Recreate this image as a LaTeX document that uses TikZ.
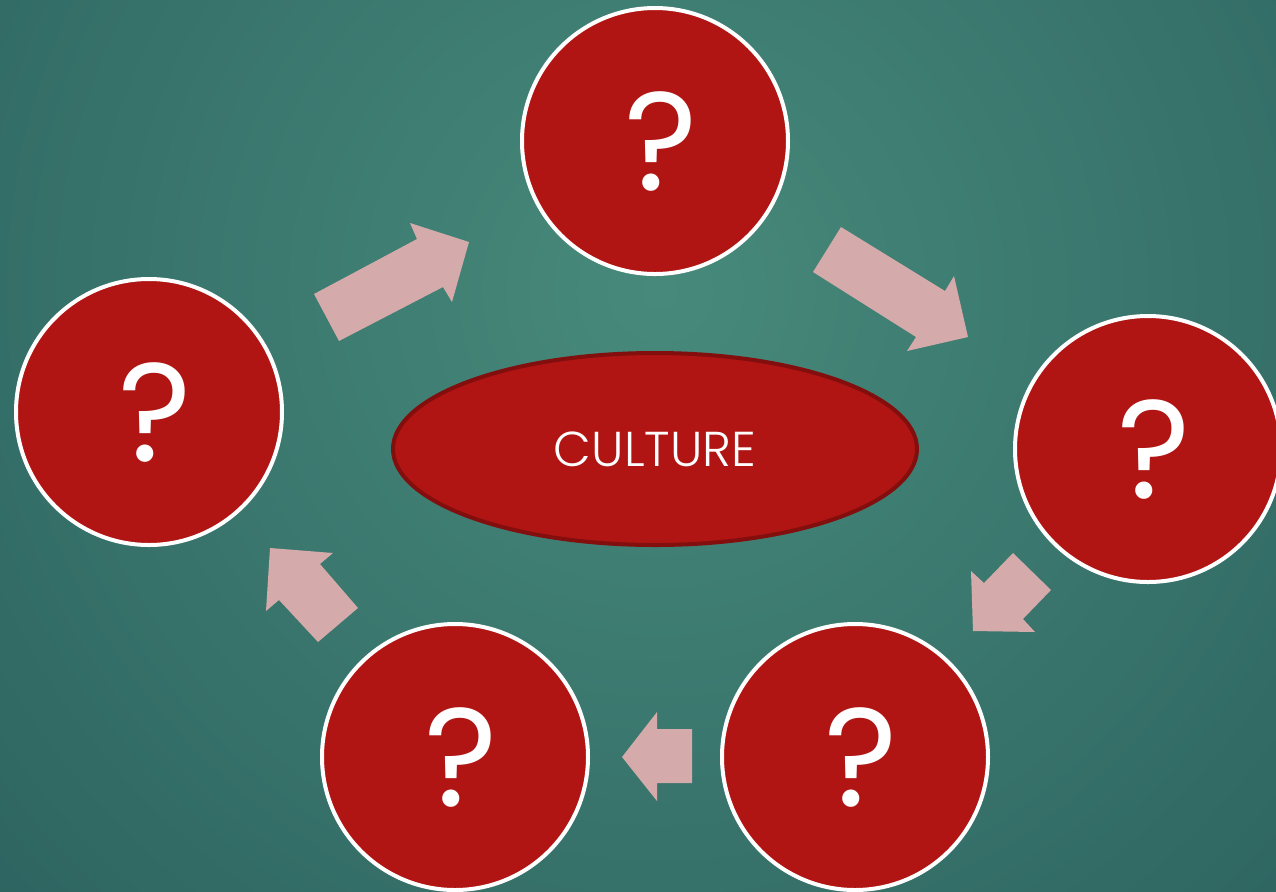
\documentclass[tikz,border=0pt]{standalone}
\usepackage{fontspec}
\setmainfont{Poppins}
\newfontfamily\lightfont{Poppins Light}
\usetikzlibrary{shapes.geometric}
\definecolor{bgin}{HTML}{478A7B}
\definecolor{bgout}{HTML}{1E4D51}
\definecolor{qred}{HTML}{B01513}
\definecolor{edred}{HTML}{820F0D}
\definecolor{arrowpink}{HTML}{D4AAAA}
\tikzset{
  qcircle/.style={circle, fill=qred, draw=white, line width=2pt, minimum size=266*0.5pt, inner sep=0pt, text=white, font=\fontsize{70}{70}\selectfont},
  culture/.style={ellipse, fill=qred, draw=edred, line width=2pt, minimum width=524*0.5pt, minimum height=192*0.5pt, inner sep=0pt, text=white, font=\lightfont\fontsize{24.5}{24.5}\selectfont},
  blockarrow/.style={fill=arrowpink, draw=none}
}
\begin{document}
\begin{tikzpicture}[x=0.5pt,y=-0.5pt]
\useasboundingbox (0,0) rectangle (1276,891);
\begin{scope}
\clip (0,0) rectangle (1276,891);
\shade[inner color=bgin, outer color=bgout] (660,290) circle (1450);
\end{scope}
\node[qcircle] (top) at (655,141) {\hspace*{6pt}?};
\node[qcircle] (left) at (149,412) {\hspace*{6pt}?};
\node[qcircle] (right) at (1148,449) {\hspace*{6pt}?};
\node[qcircle] (bright) at (855,757) {\hspace*{6pt}?};
\node[qcircle] (bleft) at (455,757) {\hspace*{6pt}?};
\node[culture] (cult) at (655,449) {CULTURE};
% block arrows
\fill[blockarrow] (314,294) -- (339,341) -- (443,287) -- (452,302) -- (469,242) -- (410,223) -- (417,239) -- cycle;
\fill[blockarrow] (841,227) -- (813,272) -- (916,337) -- (907,351) -- (968,337) -- (954,276) -- (945,291) -- cycle;
\fill[blockarrow] (1013,553) -- (1051,590) -- (1023,619) -- (1035,632) -- (973,631) -- (971,571) -- (984,583) -- cycle;
\fill[blockarrow] (692,729) -- (692,783) -- (657,783) -- (657,801) -- (622,757) -- (657,712) -- (657,729) -- cycle;
\fill[blockarrow] (358,608) -- (318,642) -- (279,600) -- (266,611) -- (270,548) -- (333,553) -- (320,564) -- cycle;
\end{tikzpicture}
\end{document}
